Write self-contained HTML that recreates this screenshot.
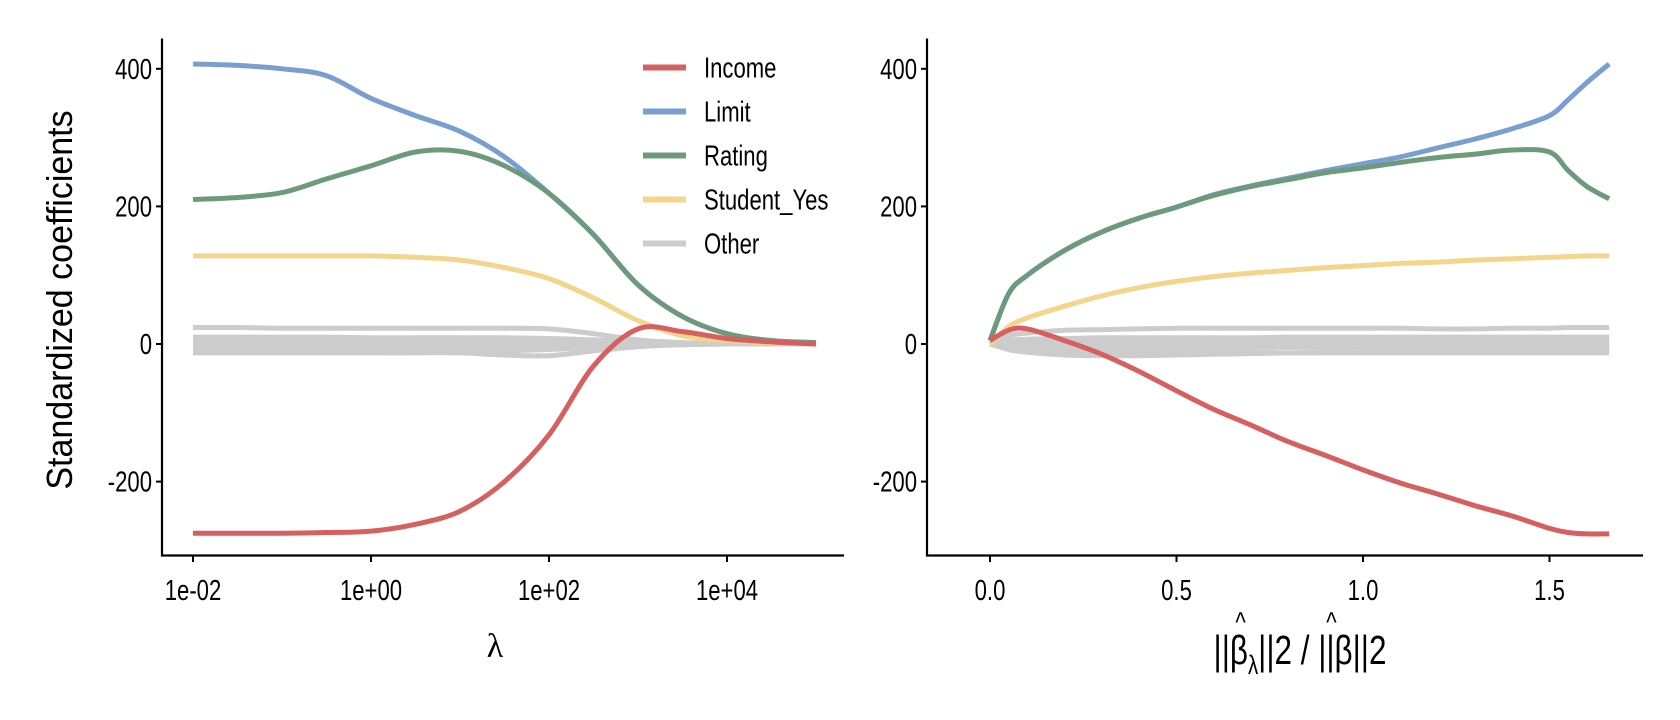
<!DOCTYPE html>
<html><head><meta charset="utf-8"><style>
html,body{margin:0;padding:0;background:#fff;}
svg{display:block;font-family:"Liberation Sans Narrow","Liberation Sans",sans-serif;}
</style></head><body>
<svg id="chart" width="1680" height="720" viewBox="0 0 1680 720">
<g id="left"></g>
<g id="right"></g>
<text transform="translate(72,300) rotate(-90) scale(1.0,1.05)" text-anchor="middle" font-size="34" fill="#000">Standardized coefficients</text>
<text x="495" y="657" text-anchor="middle" font-size="34" font-family="Liberation Serif, serif" fill="#000">λ</text>
<g transform="translate(1300,664) scale(0.85,1.1)">
<text x="0" y="0" text-anchor="middle" font-size="37" fill="#000">||β<tspan font-size="24" dy="9">λ</tspan><tspan dy="-9">||2 / ||β||2</tspan></text>
<text x="-70" y="-29" font-size="26" fill="#000" text-anchor="middle">^</text>
<text x="37" y="-29" font-size="26" fill="#000" text-anchor="middle">^</text>
</g>
</svg>
<script>
// ---- data ----
const logLambda = [-2,-1.5,-1,-0.5,0,0.5,1,1.5,2,2.5,3,3.5,4,4.5,5];
const incomeL  = [-275,-275,-275,-274,-272,-262,-243,-200,-132,-32,22,18,8,3,0];
const limitL   = [407,405,400,390,357,332,309,272,219,159,86,40,15,5,2];
const ratingL  = [210,213,220,240,259,279,280,259,219,159,86,40,15,5,2];
const studentL = [128,128,128,128,128,126,122,111,95,67,34,12,5,2,0];
const otherL = [
 [24,24,23,23,23,23,23,23,22,15,6,2,1,0,0],
 [10,10,10,10,9,9,9,9,8,6,3,1,0,0,0],
 [5,5,5,5,5,5,4,4,3,2,1,0,0,0,0],
 [0,0,0,0,0,0,0,0,0,0,0,0,0,0,0],
 [-5,-5,-5,-5,-5,-5,-6,-6,-5,-3,-1,0,0,0,0],
 [-10,-10,-10,-10,-11,-12,-13,-16,-17,-10,-4,-1,0,0,0],
 [-13,-13,-13,-13,-13,-13,-12,-10,-8,-5,-2,-1,0,0,0]
];
const ratio = [0,0.05,0.1,0.2,0.3,0.4,0.5,0.6,0.7,0.8,0.9,1.0,1.1,1.2,1.3,1.4,1.5,1.55,1.6,1.66];
const incomeR  = [5,20,22,5,-15,-40,-68,-95,-118,-142,-162,-183,-202,-218,-235,-250,-268,-274,-276,-276];
const limitR   = [5,73,100,136,163,183,199,217,230,241,252,262,272,285,298,313,332,355,380,407];
const ratingR  = [5,73,100,136,163,183,199,216,229,239,249,256,264,271,276,282,279,252,229,211];
const studentR = [0,25,38,55,70,82,91,98,103,107,111,114,117,119,122,124,126,127,128,128];
const otherR = [
 [0,12,16,20,21,22,23,23,23,23,23,23,23,22,22,23,23,24,24,24],
 [0,5,7,8,9,9,9,9,9,10,10,10,10,10,10,10,10,10,10,10],
 [0,2,3,4,4,4,5,5,5,5,5,5,5,5,5,5,5,5,5,5],
 [0,0,0,0,0,0,0,0,0,0,0,0,0,0,0,0,0,0,0,0],
 [0,-3,-5,-6,-6,-6,-6,-6,-5,-5,-5,-5,-5,-5,-5,-5,-5,-5,-5,-5],
 [0,-8,-12,-16,-17,-17,-16,-15,-14,-13,-12,-12,-11,-11,-10,-10,-10,-10,-10,-10],
 [0,-5,-8,-10,-11,-12,-12,-12,-12,-13,-13,-13,-13,-13,-13,-13,-13,-13,-13,-13]
];
const yTicks = [400,200,0,-200];
const xTicksL = [-2,0,2,4];
const xTickLabelsL = ["1e-02","1e+00","1e+02","1e+04"];
const xTicksR = [0,0.5,1.0,1.5];
const xTickLabelsR = ["0.0","0.5","1.0","1.5"];
const legendNames = ["Income","Limit","Rating","Student_Yes","Other"];
const colors = {Income:"#d65f5f",Limit:"#789fd0",Rating:"#6d9a7b",Student_Yes:"#f3d58b",Other:"#cccccc"};

// ---- scales ----
const yS = v => 344 - v*0.688;
const xL = v => 193 + (v+2)*89;
const xR = v => 990 + v*373;
const NS="http://www.w3.org/2000/svg";
function mk(tag, attrs, parent){const e=document.createElementNS(NS,tag);for(const k in attrs)e.setAttribute(k,attrs[k]);parent.appendChild(e);return e;}

function smoothPath(pts){
  let d="M"+pts[0][0].toFixed(1)+","+pts[0][1].toFixed(1);
  for(let i=0;i<pts.length-1;i++){
    const p0=pts[Math.max(0,i-1)],p1=pts[i],p2=pts[i+1],p3=pts[Math.min(pts.length-1,i+2)];
    const t=6;
    const c1=[p1[0]+(p2[0]-p0[0])/t,p1[1]+(p2[1]-p0[1])/t];
    const c2=[p2[0]-(p3[0]-p1[0])/t,p2[1]-(p3[1]-p1[1])/t];
    d+="C"+c1[0].toFixed(1)+","+c1[1].toFixed(1)+" "+c2[0].toFixed(1)+","+c2[1].toFixed(1)+" "+p2[0].toFixed(1)+","+p2[1].toFixed(1);
  }
  return d;
}
function line(parent, xs, ys, xf, color, name){
  const pts = xs.map((x,i)=>[xf(x), yS(ys[i])]);
  const p = mk("path",{d:smoothPath(pts),fill:"none",stroke:color,"stroke-width":5,"stroke-linejoin":"round"},parent);
  
  
}
function ctext(parent, x, y, anchor, size){
  return mk("text",{transform:`translate(${x},${y}) scale(0.85,1.1)`,"text-anchor":anchor,"font-size":size,fill:"#000"},parent);
}

function axes(parent, x0, x1, ticks, labels, xf, prefix){
  const ax = mk("path",{d:`M${x0},38.5V555.5H${x1}`,fill:"none",stroke:"#000","stroke-width":2.2},parent);
  
  
  yTicks.forEach(t=>{
    mk("line",{x1:x0-6,x2:x0,y1:yS(t),y2:yS(t),stroke:"#000","stroke-width":2},parent);
    const tx = ctext(parent, x0-10, yS(t)+10, "end", 26);
    tx.textContent = t;
    
    
  });
  ticks.forEach((t,i)=>{
    mk("line",{x1:xf(t),x2:xf(t),y1:555,y2:562,stroke:"#000","stroke-width":2},parent);
    const tx = ctext(parent, xf(t), 600, "middle", 26);
    tx.textContent = labels[i];
    
    
  });
}

const L = document.getElementById("left"), R = document.getElementById("right");
otherL.forEach(s=>line(L, logLambda, s, xL, colors.Other, "other-line-left"));
line(L, logLambda, studentL, xL, colors.Student_Yes, "student-line-left");
line(L, logLambda, limitL, xL, colors.Limit, "limit-line-left");
line(L, logLambda, ratingL, xL, colors.Rating, "rating-line-left");
line(L, logLambda, incomeL, xL, colors.Income, "income-line-left");
axes(L, 162, 844, xTicksL, xTickLabelsL, xL, "left");

otherR.forEach(s=>line(R, ratio, s, xR, colors.Other, "other-line-right"));
line(R, ratio, studentR, xR, colors.Student_Yes, "student-line-right");
line(R, ratio, limitR, xR, colors.Limit, "limit-line-right");
line(R, ratio, ratingR, xR, colors.Rating, "rating-line-right");
line(R, ratio, incomeR, xR, colors.Income, "income-line-right");
axes(R, 927, 1643, xTicksR, xTickLabelsR, xR, "right");

// legend
const lg = mk("g",{},L);


legendNames.forEach((n,i)=>{
  const y = 67.5 + i*44;
  const g = mk("g",{},lg);
  
  
  mk("line",{x1:643,x2:686,y1:y,y2:y,stroke:colors[n],"stroke-width":6},g);
  const t = ctext(g, 704, y+10, "start", 26);
  t.textContent = n;
});
</script>
</body></html>
